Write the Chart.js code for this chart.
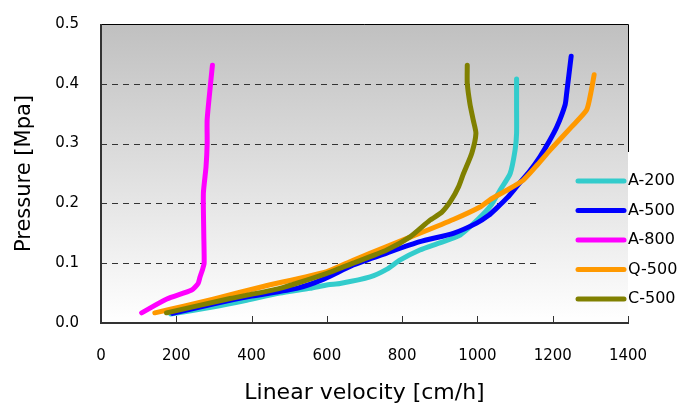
<!DOCTYPE html>
<html>
<head>
<meta charset="utf-8">
<script src="https://cdn.jsdelivr.net/npm/chart.js@4"></script>
<style>
    body { margin: 0; background: #fff; }
    #wrap { width: 696px; height: 408px; }
</style>
</head>
<body>
<div id="wrap"><canvas id="pressureChart" width="696" height="408"></canvas></div>
<script>
// --------------------------------------------------
//  DATA
// --------------------------------------------------
const seriesNames = ['A-200', 'A-500', 'A-800', 'Q-500', 'C-500'];
const seriesColors = ['#33CCCC', '#0000FF', '#FF00FF', '#FF9900', '#808000'];

const xTicks = [0, 200, 400, 600, 800, 1000, 1200, 1400];
const yTicks = [0.0, 0.1, 0.2, 0.3, 0.4, 0.5];

// velocity [cm/h] / pressure [MPa]
const a200Velocity = [185, 300, 387, 475, 555, 603, 635, 715, 760, 794, 847, 900, 954, 1004, 1035, 1060, 1087, 1100, 1104, 1104, 1104];
const a200Pressure = [0.015, 0.027, 0.038, 0.050, 0.058, 0.064, 0.066, 0.077, 0.090, 0.105, 0.122, 0.134, 0.147, 0.175, 0.196, 0.222, 0.250, 0.289, 0.317, 0.360, 0.408];

const a500Velocity = [190, 300, 400, 520, 590, 670, 759, 847, 936, 998, 1030, 1051, 1080, 1104, 1140, 1166, 1190, 1211, 1233, 1237, 1249];
const a500Pressure = [0.016, 0.032, 0.045, 0.058, 0.073, 0.097, 0.117, 0.136, 0.150, 0.167, 0.180, 0.192, 0.210, 0.228, 0.255, 0.278, 0.303, 0.328, 0.365, 0.384, 0.446];

const a800Velocity = [108, 175, 241, 258, 263, 270, 274, 273, 272, 279, 282, 282, 291, 296];
const a800Pressure = [0.017, 0.040, 0.055, 0.066, 0.077, 0.090, 0.100, 0.150, 0.217, 0.261, 0.300, 0.340, 0.400, 0.431];

const q500Velocity = [143, 220, 298, 431, 600, 670, 759, 847, 936, 1007, 1033, 1078, 1122, 1160, 1193, 1250, 1290, 1301, 1310];
const q500Pressure = [0.017, 0.028, 0.040, 0.061, 0.086, 0.105, 0.128, 0.150, 0.173, 0.194, 0.206, 0.222, 0.239, 0.265, 0.289, 0.328, 0.356, 0.384, 0.415];

const c500Velocity = [174, 343, 475, 600, 670, 759, 821, 874, 905, 930, 950, 963, 985, 996, 989, 980, 973, 973];
const c500Pressure = [0.017, 0.041, 0.058, 0.083, 0.100, 0.122, 0.144, 0.172, 0.185, 0.205, 0.228, 0.250, 0.284, 0.317, 0.339, 0.367, 0.401, 0.431];

const seriesVelocity = [a200Velocity, a500Velocity, a800Velocity, q500Velocity, c500Velocity];
const seriesPressure = [a200Pressure, a500Pressure, a800Pressure, q500Pressure, c500Pressure];

// --------------------------------------------------
//  LAYOUT
// --------------------------------------------------
const FONT = "'DejaVu Sans', sans-serif";
const legendBox = { left: 540, top: 152 };   // area the legend hides grid / border in
const legendRow0 = 181;
const legendRowStep = 29.5;

function toPoints(vs, ps) {
    return vs.map((v, i) => ({ x: v, y: ps[i] }));
}

const datasets = seriesNames.map((name, i) => ({
    label: name,
    data: toPoints(seriesVelocity[i], seriesPressure[i]),
    borderColor: seriesColors[i],
    backgroundColor: seriesColors[i],
    borderWidth: 5,
    showLine: true,
    pointRadius: 0,
    tension: 0.2,
    borderCapStyle: 'round',
    borderJoinStyle: 'round',
    order: seriesNames.length - i   // later series drawn on top (like Excel)
}));

// --------------------------------------------------
//  PLUGIN: gradient, dashed grid, frame, ticks, legend
// --------------------------------------------------
const decorPlugin = {
    id: 'decor',
    beforeDatasetsDraw(chart) {
        const { ctx, chartArea: a, scales: { x, y } } = chart;
        ctx.save();
        const g = ctx.createLinearGradient(0, a.top, 0, a.bottom);
        g.addColorStop(0, '#c0c0c0');
        g.addColorStop(1, '#ffffff');
        ctx.fillStyle = g;
        ctx.fillRect(a.left, a.top, a.right - a.left, a.bottom - a.top);

        // dashed grid lines
        ctx.strokeStyle = '#333';
        ctx.lineWidth = 1;
        ctx.setLineDash([6, 5]);
        yTicks.forEach(v => {
            if (v <= 0 || v >= 0.5) return;
            const py = Math.round(y.getPixelForValue(v)) + 0.5;
            const endX = py > legendBox.top ? legendBox.left : a.right;
            ctx.beginPath();
            ctx.moveTo(a.left, py);
            ctx.lineTo(endX, py);
            ctx.stroke();
        });
        ctx.setLineDash([]);

        // frame: top + right (thin), left + bottom (axis)
        ctx.strokeStyle = '#000';
        ctx.lineWidth = 1;
        ctx.beginPath();
        ctx.moveTo(a.left, a.top + 0.5);
        ctx.lineTo(a.right + 0.5, a.top + 0.5);
        ctx.lineTo(a.right + 0.5, legendBox.top);
        ctx.stroke();

        ctx.strokeStyle = '#333';
        ctx.lineWidth = 2;
        ctx.beginPath();
        ctx.moveTo(a.left, a.top);
        ctx.lineTo(a.left, a.bottom);
        ctx.lineTo(a.right + 1, a.bottom);
        ctx.stroke();

        // inward ticks on x axis
        ctx.lineWidth = 1;
        xTicks.forEach(v => {
            const px = Math.round(x.getPixelForValue(v)) + 0.5;
            ctx.beginPath();
            ctx.moveTo(px, a.bottom);
            ctx.lineTo(px, a.bottom - 7);
            ctx.stroke();
        });
        ctx.restore();
    },
    afterDraw(chart) {
        const ctx = chart.ctx;
        ctx.save();
        ctx.font = '16px ' + FONT;
        ctx.textBaseline = 'middle';
        ctx.textAlign = 'left';
        chart.data.datasets.forEach((ds, i) => {
            const ry = legendRow0 + i * legendRowStep;
            ctx.strokeStyle = ds.borderColor;
            ctx.lineWidth = 5;
            ctx.lineCap = 'round';
            ctx.beginPath();
            ctx.moveTo(578, ry);
            ctx.lineTo(624, ry);
            ctx.stroke();
            ctx.fillStyle = '#000';
            ctx.fillText(ds.label, 628, ry);
        });
        ctx.restore();
    }
};

// --------------------------------------------------
//  CHART
// --------------------------------------------------
const ctx = document.getElementById('pressureChart').getContext('2d');

new Chart(ctx, {
    type: 'scatter',
    data: { datasets: datasets },
    options: {
        responsive: false,
        animation: false,
        layout: { padding: { top: 24, right: 68, left: 0, bottom: 0 } },
        plugins: {
            legend: { display: false },
            tooltip: { enabled: false }
        },
        scales: {
            x: {
                type: 'linear',
                min: 0,
                max: 1400,
                afterBuildTicks: scale => { scale.ticks = xTicks.map(v => ({ value: v })); },
                afterFit: scale => { scale.height = 85; scale.paddingLeft = 0; scale.paddingRight = 0; },
                ticks: {
                    color: '#000',
                    font: { family: FONT, size: 15 },
                    padding: 24,
                    maxRotation: 0,
                    callback: v => String(v)
                },
                grid: { display: false, drawTicks: false },
                border: { display: false },
                title: {
                    display: true,
                    text: 'Linear velocity [cm/h]',
                    color: '#000',
                    font: { family: FONT, size: 22 },
                    padding: { top: 0, bottom: 2 }
                }
            },
            y: {
                type: 'linear',
                min: 0,
                max: 0.5,
                afterBuildTicks: scale => { scale.ticks = yTicks.map(v => ({ value: v })); },
                afterFit: scale => { scale.width = 101; scale.paddingTop = 0; scale.paddingBottom = 0; },
                ticks: {
                    color: '#000',
                    font: { family: FONT, size: 15 },
                    padding: 22,
                    callback: v => v.toFixed(1)
                },
                grid: { display: false, drawTicks: false },
                border: { display: false },
                title: {
                    display: true,
                    text: 'Pressure [Mpa]',
                    color: '#000',
                    font: { family: FONT, size: 21 },
                    padding: { top: 12, bottom: 0 }
                }
            }
        }
    },
    plugins: [decorPlugin]
});
</script>
</body>
</html>
